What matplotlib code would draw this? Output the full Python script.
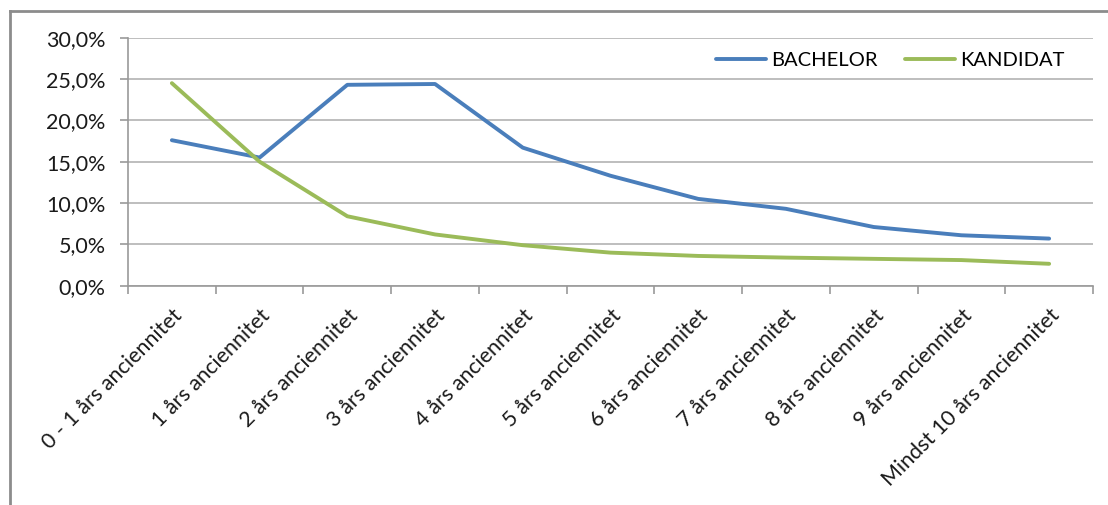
import matplotlib
matplotlib.use("Agg")
import matplotlib.pyplot as plt
from matplotlib.lines import Line2D
from matplotlib.ticker import FuncFormatter
import numpy as np

plt.rcParams['font.family'] = ['Lato', 'DejaVu Sans']

categories = ["0 - 1 års anciennitet", "1 års anciennitet", "2 års anciennitet",
              "3 års anciennitet", "4 års anciennitet", "5 års anciennitet",
              "6 års anciennitet", "7 års anciennitet", "8 års anciennitet",
              "9 års anciennitet", "Mindst 10 års anciennitet"]
bachelor = [17.6, 15.5, 24.3, 24.4, 16.7, 13.3, 10.5, 9.3, 7.1, 6.1, 5.7]
kandidat = [24.5, 15.0, 8.4, 6.2, 4.9, 4.0, 3.6, 3.4, 3.25, 3.1, 2.65]
yticks = [0, 5, 10, 15, 20, 25, 30]

fig = plt.figure(figsize=(11.08, 5.05), dpi=100)
ax = fig.add_axes([128 / 1108, 1 - 285.7 / 505, (1093 - 128) / 1108, (285.7 - 37.7) / 505])

x = np.arange(len(categories))
ax.plot(x, bachelor, color='#4a7ebb', lw=2.8, label='BACHELOR', solid_capstyle='round')
ax.plot(x, kandidat, color='#9bbb59', lw=2.8, label='KANDIDAT', solid_capstyle='round')

ax.set_xlim(-0.5, len(categories) - 0.5)
ax.set_ylim(0, 30)
ax.set_yticks(yticks)
ax.yaxis.set_major_formatter(FuncFormatter(lambda v, p: f"{v:.1f}%".replace('.', ',')))
ax.grid(axis='y', color='#b3b3b3', lw=1.2)
ax.set_axisbelow(True)

ax.set_xticks(x)
ax.set_xticklabels(categories, rotation=45, ha='right', rotation_mode='anchor')
ax.set_xticks(np.arange(-0.5, len(categories)), minor=True)
ax.tick_params(axis='x', which='major', length=0, pad=14, labelsize=15.5, labelcolor='#1a1a1a')
ax.tick_params(axis='x', which='minor', length=6, color='#999999', width=1.2)
ax.tick_params(axis='y', length=6, color='#999999', width=1.2, pad=10, labelsize=15.5, labelcolor='#1a1a1a')

for s in ['top', 'right']:
    ax.spines[s].set_visible(False)
for s in ['left', 'bottom']:
    ax.spines[s].set_color('#999999')
    ax.spines[s].set_linewidth(1.2)

ax.legend(loc='upper right', bbox_to_anchor=(0.985, 0.998), ncol=2, frameon=False,
          fontsize=14.5, handlelength=2.5, handletextpad=0.25, columnspacing=1.35,
          borderaxespad=0.3)

# outer chart border (left and top)
fig.add_artist(Line2D([10 / 1108, 10 / 1108], [0, 1 - 11 / 505], transform=fig.transFigure,
                      color='#8c8c8c', lw=2))
fig.add_artist(Line2D([10 / 1108, 1], [1 - 11 / 505, 1 - 11 / 505], transform=fig.transFigure,
                      color='#8c8c8c', lw=2))

fig.savefig('out.png', dpi=100)
